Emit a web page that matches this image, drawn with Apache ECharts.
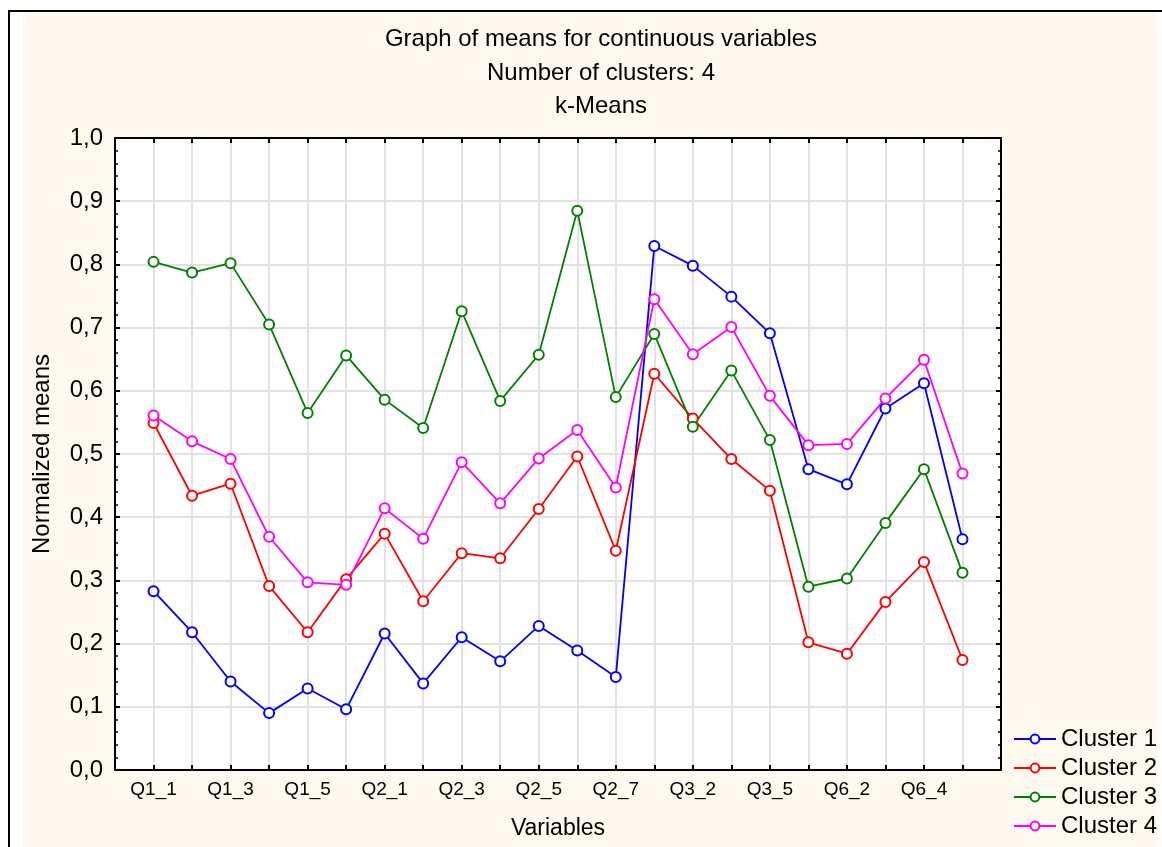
<!DOCTYPE html>
<html>
<head>
<meta charset="utf-8">
<script src="https://cdn.jsdelivr.net/npm/echarts@6/dist/echarts.min.js"></script>
<style>
  html, body { margin: 0; padding: 0; background: #ffffff; }
  #frame { position: absolute; left: 0; top: 0; width: 1162px; height: 847px; overflow: hidden; }
  #cream { position: absolute; left: 23px; top: 12px; width: 1135px; height: 835px; background: #FEF9EE; }
  #topline { position: absolute; left: 8px; top: 10px; width: 1154px; height: 2px; background: #000; }
  #leftline { position: absolute; left: 8px; top: 10px; width: 2px; height: 837px; background: #000; }
  #chart { position: absolute; left: 0; top: 0; width: 1162px; height: 847px; }
</style>
</head>
<body>
<div id="frame">
  <div id="cream"></div>
  <div id="topline"></div>
  <div id="leftline"></div>
  <div id="chart"></div>
</div>
<script>
// ---- Data ----
const variables = ['Q1_1','Q1_2','Q1_3','Q1_4','Q1_5','Q1_6',
  'Q2_1','Q2_2','Q2_3','Q2_4','Q2_5','Q2_6','Q2_7',
  'Q3_1','Q3_2','Q3_3','Q3_5','Q6_1','Q6_2','Q6_3','Q6_4','Q6_5'];
const seriesNames = ['Cluster 1','Cluster 2','Cluster 3','Cluster 4'];
const cluster1 = [0.283,0.218,0.140,0.090,0.129,0.096,0.216,0.137,0.210,0.172,0.228,0.189,0.147,
  0.829,0.798,0.749,0.691,0.476,0.452,0.572,0.612,0.365];
const cluster2 = [0.549,0.434,0.453,0.291,0.218,0.302,0.374,0.267,0.343,0.335,0.413,0.496,0.347,
  0.627,0.556,0.492,0.442,0.202,0.184,0.266,0.329,0.174];
const cluster3 = [0.804,0.787,0.802,0.705,0.565,0.656,0.586,0.541,0.726,0.584,0.657,0.885,0.590,
  0.690,0.543,0.632,0.522,0.290,0.303,0.391,0.476,0.312];
const cluster4 = [0.561,0.520,0.492,0.369,0.297,0.293,0.414,0.366,0.487,0.422,0.493,0.538,0.447,
  0.745,0.658,0.701,0.592,0.514,0.516,0.588,0.649,0.469];
const yTicks = [0,0.1,0.2,0.3,0.4,0.5,0.6,0.7,0.8,0.9,1.0];
const colors = ['#0000FF','#FF0000','#008000','#FF00FF'];

// category axis padded with blank slots at both ends
const axisCats = [' '].concat(variables).concat(['  ']);
const allData = [cluster1, cluster2, cluster3, cluster4];

const font = 'Liberation Sans, Arial, sans-serif';
const chart = echarts.init(document.getElementById('chart'), null, {renderer: 'canvas'});

const commonX = {
  type: 'category',
  data: axisCats,
  boundaryGap: false,
  axisLine: { show: true, onZero: false, lineStyle: { color: '#000', width: 2 } },
  axisTick: { show: true, inside: true, interval: 0, length: 5, lineStyle: { color: '#000', width: 2 } },
};
const commonY = {
  type: 'value',
  min: 0, max: 1, interval: 0.1,
  axisLine: { show: true, lineStyle: { color: '#000', width: 2 } },
  axisTick: { show: true, inside: true, length: 5, lineStyle: { color: '#000', width: 2 } },
  minorTick: { show: true, splitNumber: 5, length: 3, lineStyle: { color: '#000', width: 1.5 } },
};
const titleStyle = { fontSize: 24, fontWeight: 'normal', color: '#000', fontFamily: font };

chart.setOption({
  backgroundColor: 'transparent',
  animation: false,
  textStyle: { fontFamily: font },
  title: [
    { text: 'Graph of means for continuous variables', left: 596, top: 22, textAlign: 'center', textStyle: titleStyle },
    { text: 'Number of clusters: 4', left: 596, top: 56, textAlign: 'center', textStyle: titleStyle },
    { text: 'k-Means', left: 596, top: 89, textAlign: 'center', textStyle: titleStyle }
  ],
  legend: {
    show: true,
    orient: 'vertical',
    left: 1013, top: 727,
    padding: 0,
    itemWidth: 42, itemHeight: 11, itemGap: 5,
    data: seriesNames,
    textStyle: { fontSize: 24, color: '#000', fontFamily: font },
  },
  grid: { left: 115, top: 138, right: 161, bottom: 77, show: true, backgroundColor: '#fff', borderWidth: 0 },
  xAxis: [
    Object.assign({}, commonX, {
      position: 'bottom',
      name: 'Variables', nameLocation: 'middle', nameGap: 47,
      nameTextStyle: { fontSize: 23, color: '#000', fontFamily: font },
      axisLabel: { show: true, fontSize: 19, color: '#000', margin: 10, fontFamily: font,
        interval: function (idx) { return idx % 2 === 1; } },
      splitLine: { show: true, interval: 0, lineStyle: { color: '#e2e2e2', width: 2 } }
    }),
    Object.assign({}, commonX, {
      position: 'top',
      axisLabel: { show: false },
      splitLine: { show: false }
    })
  ],
  yAxis: [
    Object.assign({}, commonY, {
      position: 'left',
      name: 'Normalized means', nameLocation: 'middle', nameGap: 61,
      nameTextStyle: { fontSize: 24, color: '#000', fontFamily: font },
      axisLabel: { show: true, fontSize: 24, color: '#000', margin: 12, fontFamily: font,
        formatter: function (v) {
          const t = yTicks.find(function (x) { return Math.abs(x - v) < 1e-9; });
          return (t !== undefined ? t : v).toFixed(1).replace('.', ',');
        } },
      splitLine: { show: true, lineStyle: { color: '#e2e2e2', width: 2 } }
    }),
    Object.assign({}, commonY, {
      position: 'right',
      axisLabel: { show: false },
      splitLine: { show: false }
    })
  ],
  series: allData.map(function (arr, k) {
    return {
      name: seriesNames[k],
      type: 'line',
      xAxisIndex: 0, yAxisIndex: 0,
      data: arr.map(function (v, i) { return [variables[i], v]; }),
      symbol: 'emptyCircle',
      symbolSize: 10,
      color: colors[k],
      lineStyle: { color: colors[k], width: 1.8 },
      itemStyle: { color: colors[k], borderColor: colors[k], borderWidth: 1.6 },
      emphasis: { disabled: true }
    };
  })
});
</script>
</body>
</html>
